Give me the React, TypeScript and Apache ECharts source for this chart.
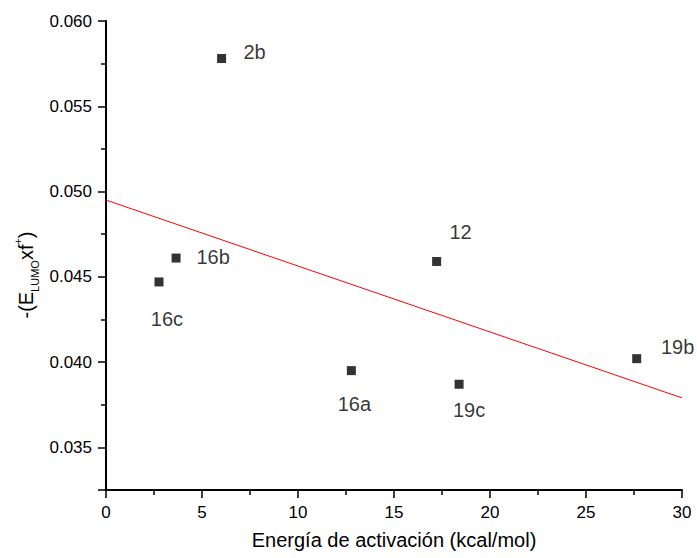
import React, { useEffect, useRef } from "react";
import * as echarts from "echarts";

// Data
const compounds = ["2b", "16b", "16c", "12", "16a", "19c", "19b"];
const activationEnergy = [6.02, 3.65, 2.76, 17.22, 12.78, 18.39, 27.64];
const lumoTimesF = [0.0578, 0.0461, 0.0447, 0.0459, 0.0395, 0.0387, 0.0402];
const fitX = [0, 30];
const fitY = [0.0495, 0.0379];
const yMajorTicks = [0.0325, 0.035, 0.04, 0.045, 0.05, 0.055, 0.06];
const yLabelTicks = [0.035, 0.04, 0.045, 0.05, 0.055, 0.06];
const yMinorTicks = [0.0375, 0.0425, 0.0475, 0.0525, 0.0575];

// Label placement (layout only)
const labelOffsets: Record<string, [number, number]> = {
  "2b": [33, -7],
  "16b": [37, -1],
  "16c": [8, 37],
  "12": [24, -29],
  "16a": [3, 33],
  "19c": [10, 26],
  "19b": [41, -12],
};

const FONT = "'Liberation Sans', Arial, Helvetica, sans-serif";

export default function App() {
  const ref = useRef<HTMLDivElement>(null);
  useEffect(() => {
    document.body.style.margin = "0";
    if (!ref.current) return;
    const chart = echarts.init(ref.current, null, { renderer: "svg" });
    const axisColor = "#000";
    chart.setOption({
      animation: false,
      backgroundColor: "#fff",
      textStyle: { fontFamily: FONT },
      grid: { left: 106, right: 15, top: 21, bottom: 68 },
      xAxis: {
        type: "value",
        min: 0,
        max: 30,
        interval: 5,
        name: "Energía de activación (kcal/mol)",
        nameLocation: "middle",
        nameGap: 40,
        nameTextStyle: { fontSize: 20, color: "#000", fontFamily: FONT },
        axisLine: { show: true, onZero: false, lineStyle: { color: axisColor, width: 2 } },
        axisTick: { show: true, length: 8, lineStyle: { color: axisColor, width: 1.5 } },
        minorTick: { show: true, splitNumber: 2, length: 5, lineStyle: { color: axisColor, width: 1.5 } },
        axisLabel: { fontSize: 17, color: "#000", margin: 14, fontFamily: FONT },
        splitLine: { show: false },
      },
      yAxis: [
        {
          type: "value",
          min: 0.0325,
          max: 0.06,
          position: "left",
          axisLine: { show: true, onZero: false, lineStyle: { color: axisColor, width: 2 } },
          axisTick: {
            show: true,
            length: 8,
            customValues: yMajorTicks,
            lineStyle: { color: axisColor, width: 1.5 },
          },
          axisLabel: {
            fontSize: 17,
            color: "#000",
            margin: 14,
            fontFamily: FONT,
            customValues: yLabelTicks,
            formatter: (v: number) => v.toFixed(3),
          },
          splitLine: { show: false },
        },
        {
          type: "value",
          min: 0.0325,
          max: 0.06,
          position: "left",
          offset: 0,
          axisLine: { show: false },
          axisTick: {
            show: true,
            length: 5,
            customValues: yMinorTicks,
            lineStyle: { color: axisColor, width: 1.5 },
          },
          axisLabel: { show: false },
          splitLine: { show: false },
        },
      ],
      graphic: [
        {
          type: "text",
          x: 26,
          y: 275,
          rotation: Math.PI / 2,
          style: {
            text: "{a|-(E}{sub|LUMO}{a|xf}{sup|+}{a|)}",
            align: "center",
            verticalAlign: "middle",
            fill: "#000",
            rich: {
              a: { fontSize: 20, lineHeight: 28, fontFamily: FONT, fill: "#000" },
              sub: { fontSize: 11, lineHeight: 11, verticalAlign: "bottom", fontFamily: FONT, fill: "#000" },
              sup: { fontSize: 11, lineHeight: 11, verticalAlign: "top", fontFamily: FONT, fill: "#000" },
            },
          },
        },
      ],
      series: [
        {
          type: "line",
          data: fitX.map((x, i) => [x, fitY[i]]),
          showSymbol: false,
          symbol: "none",
          lineStyle: { color: "#ff0000", width: 1 },
          silent: true,
          z: 1,
        },
        {
          type: "scatter",
          symbol: "rect",
          symbolSize: 9,
          itemStyle: { color: "#000" },
          z: 3,
          data: compounds.map((n, i) => ({
            name: n,
            value: [activationEnergy[i], lumoTimesF[i]],
            label: {
              show: true,
              position: "inside",
              formatter: n,
              offset: labelOffsets[n],
              fontSize: 20,
              color: "#000",
              fontFamily: FONT,
              align: "center",
              verticalAlign: "middle",
            },
          })),
        },
      ],
    });
    return () => chart.dispose();
  }, []);
  return <div ref={ref} style={{ width: 697, height: 558 }} />;
}
